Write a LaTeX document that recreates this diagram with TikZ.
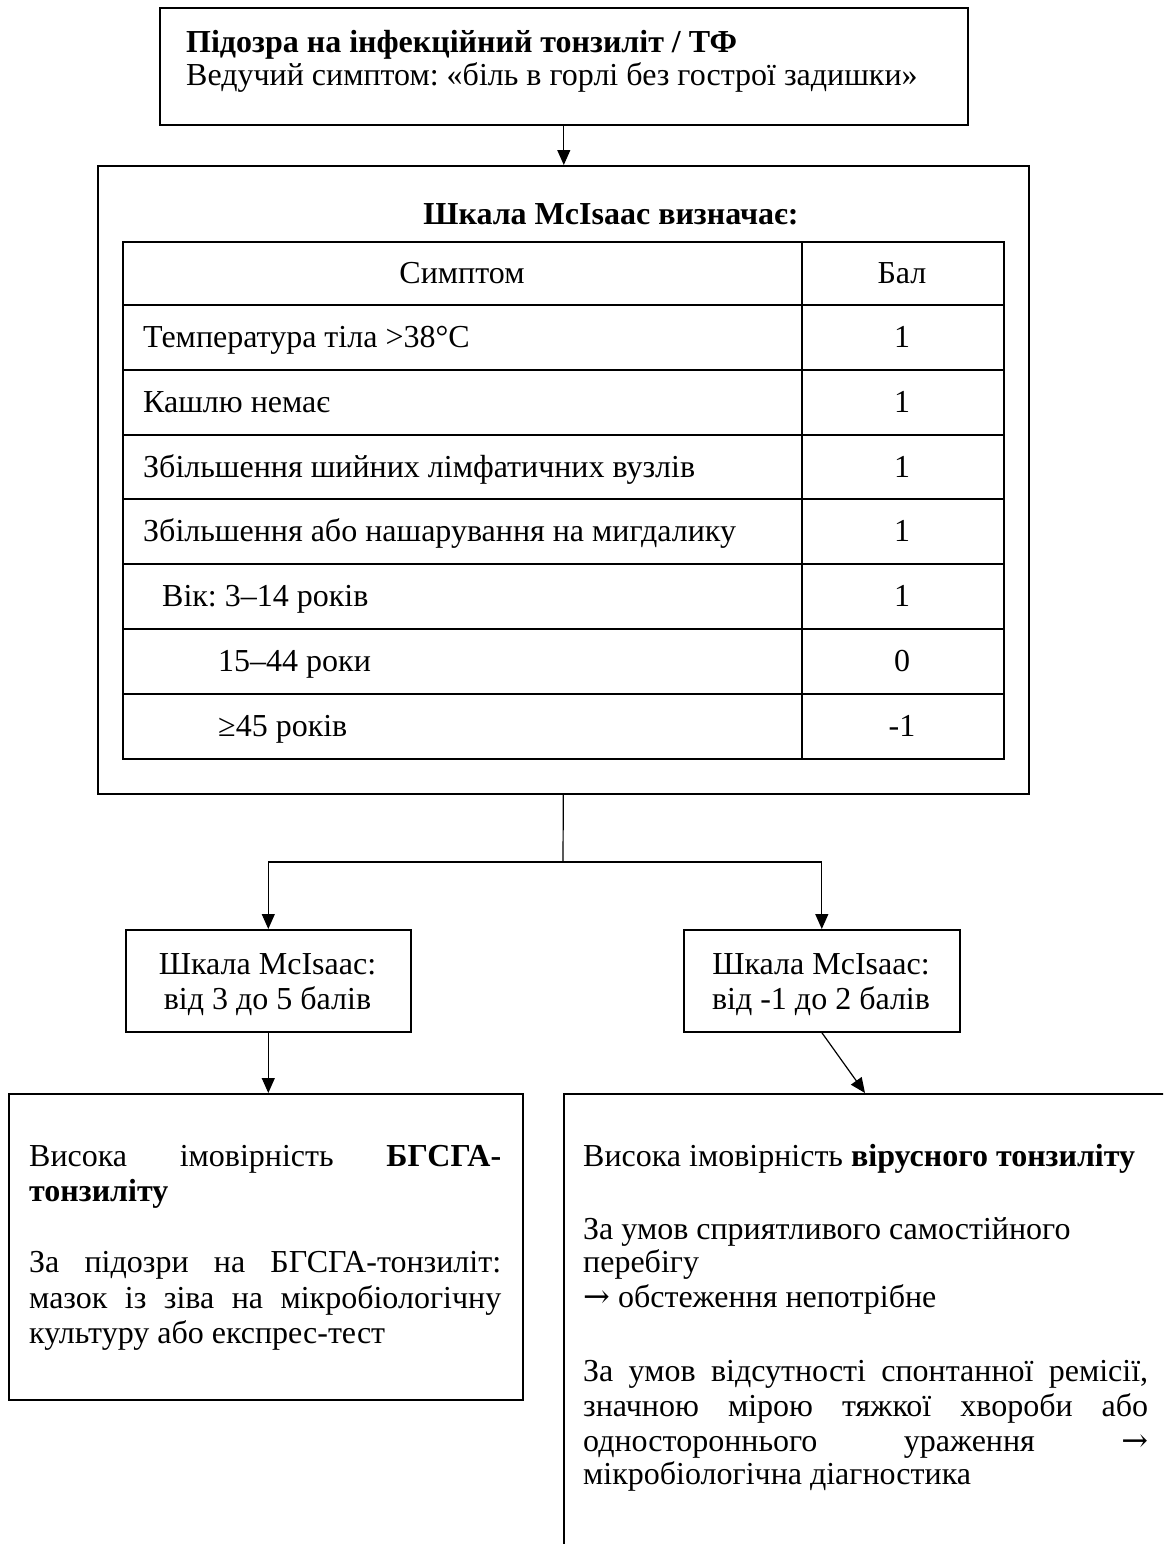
\documentclass[tikz,border=0pt]{standalone}
\usepackage{fontspec}
\setmainfont{Liberation Serif}
\newfontfamily\arrowfont{DejaVu Serif}
\usetikzlibrary{arrows.meta}
\newcommand{\dfsize}{\fontsize{32}{36}\selectfont\frenchspacing}
\newcommand{\rarr}{{\arrowfont →}}
\tikzset{
  box/.style={rectangle, draw=black, line width=1.6pt, inner sep=0pt, anchor=north west},
  grid/.style={draw=black, line width=1.6pt},
  conn/.style={draw=black, line width=1.2pt},
  arr/.style={conn, -{Triangle[length=15pt,width=13pt]}},
  lt/.style={inner sep=0pt, anchor=base west, font=\dfsize},
  ct/.style={inner sep=0pt, anchor=base, font=\dfsize},
}
\begin{document}
\begin{tikzpicture}[x=1pt,y=-1pt]
\useasboundingbox (0,0) rectangle (1163,1544);
\clip (0,0) rectangle (1163,1544);
\fill[white] (0,0) rectangle (1163,1544);

% top box
\node[box, minimum width=808pt, minimum height=117pt] (top) at (159,7) {};
\node[lt, font=\dfsize\bfseries] (t1) at (186,53) {Підозра на інфекційний тонзиліт / ТФ};
\node[lt] (t2) at (186,86) {Ведучий симптом: «біль в горлі без гострої задишки»};

% big box with table
\node[box, minimum width=931pt, minimum height=628pt] (big) at (97,165) {};
\node[ct, font=\dfsize\bfseries] (ttl) at (611,224) {Шкала McIsaac визначає:};
\node[box, minimum width=881pt, minimum height=517pt] (tbl) at (122,241) {};
\foreach \yy in {305,370,435,499,564,629,694} \draw[grid] (122,\yy) -- (1003,\yy);
\draw[grid] (802,241) -- (802,758);

\node[ct] (h1) at (462,283) {Симптом};
\node[ct] (h2) at (902,283) {Бал};
\node[lt] (r1) at (143,347.5) {Температура тіла >38°C};
\node[ct] (v1) at (902,347.5) {1};
\node[lt] (r2) at (143,412.5) {Кашлю немає};
\node[ct] (v2) at (902,412.5) {1};
\node[lt] (r3) at (143,477) {Збільшення шийних лімфатичних вузлів};
\node[ct] (v3) at (902,477) {1};
\node[lt] (r4) at (143,541.5) {Збільшення або нашарування на мигдалику};
\node[ct] (v4) at (902,541.5) {1};
\node[lt] (r5) at (162,606.5) {Вік: 3–14 років};
\node[ct] (v5) at (902,606.5) {1};
\node[lt] (r6) at (218,671.5) {15–44 роки};
\node[ct] (v6) at (902,671.5) {0};
\node[lt] (r7) at (218,736) {≥45 років};
\node[ct] (v7) at (902,736) {-1};

% small boxes
\node[box, minimum width=285pt, minimum height=102pt] (sl) at (125,929) {};
\node[ct] (sl1) at (267.5,974) {Шкала McIsaac:};
\node[ct] (sl2) at (267.5,1009) {від 3 до 5 балів};
\node[box, minimum width=276pt, minimum height=102pt] (sr) at (683,929) {};
\node[ct] (sr1) at (821,974) {Шкала McIsaac:};
\node[ct] (sr2) at (821,1009) {від -1 до 2 балів};

% bottom boxes
\node[box, minimum width=514pt, minimum height=306pt] (bl) at (8,1093) {};
\node[lt] (bl1) at (29,1166) {\makebox[472pt][s]{Висока імовірність \textbf{БГСГА-}}};
\node[lt] (bl2) at (29,1201.5) {\textbf{тонзиліту}};
\node[lt] (bl3) at (29,1272.5) {\makebox[472pt][s]{За підозри на БГСГА-тонзиліт:}};
\node[lt] (bl4) at (29,1308) {\makebox[472pt][s]{мазок із зіва на мікробіологічну}};
\node[lt] (bl5) at (29,1343.5) {культуру або експрес-тест};

\node[box, minimum width=620pt, minimum height=500pt] (br) at (563,1093) {};
\node[lt] (br1) at (583,1166) {Висока імовірність \textbf{вірусного тонзиліту}};
\node[lt] (br2) at (583,1239) {За умов сприятливого самостійного};
\node[lt] (br3) at (583,1272) {перебігу};
\node[lt] (br4) at (583,1307) {\rarr{} обстеження непотрібне};
\node[lt] (br5) at (583,1381) {\makebox[565pt][s]{За умов відсутності спонтанної ремісії,}};
\node[lt] (br6) at (583,1416) {\makebox[565pt][s]{значною мірою тяжкої хвороби або}};
\node[lt] (br7) at (583,1451) {\makebox[565pt][s]{одностороннього ураження \rarr}};
\node[lt] (br8) at (583,1484) {мікробіологічна діагностика};

% connectors
\coordinate (split) at (563,862);
\coordinate (brtip) at (865,1093);
\draw[arr] (top.south) -- (top.south |- big.north);
\draw[conn] (big.south) -- (split);
\draw[arr] (split) -| (sl.north);
\draw[arr] (split) -| (sr.north);
\draw[arr] (sl.south) -- (sl.south |- bl.north);
\draw[arr] (sr.south) -- (brtip);
\end{tikzpicture}
\end{document}
